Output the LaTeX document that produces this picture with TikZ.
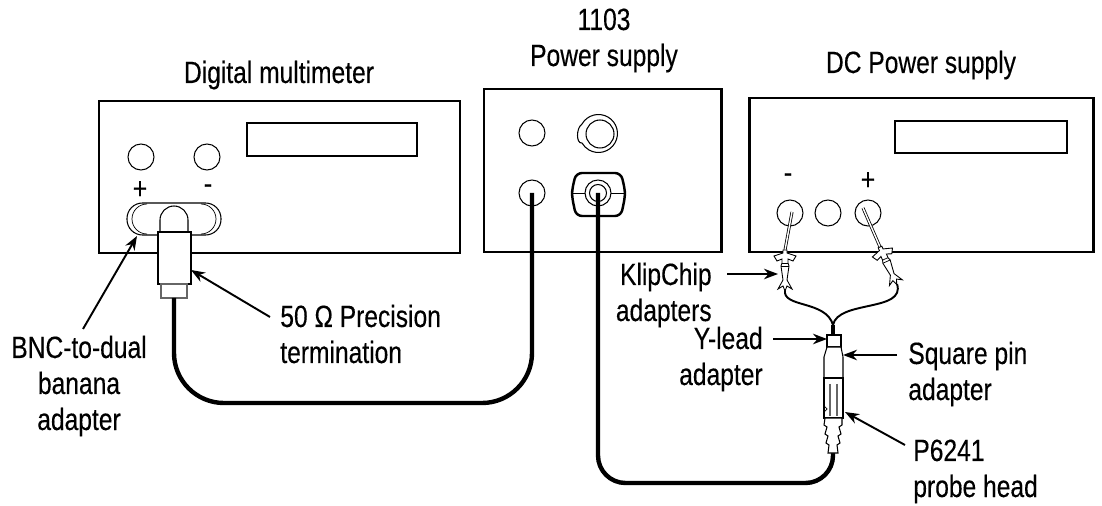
\documentclass[tikz,border=0pt]{standalone}
\usepackage{fontspec}
\setmainfont{Liberation Sans}[FakeStretch=0.8, FakeBold=0.3]
\usetikzlibrary{arrows.meta,positioning,calc}

\tikzset{
  klipchip/.pic={
    \draw[part, line width=0.5pt] (-2,0) -- (2,0) -- (2,3) -- (11,6) -- (8,11) -- (3,9)
      -- (3,13) -- (4,16) -- (2,30) -- (7,39) -- (2,36) -- (0,41) -- (-2,36) -- (-7,39)
      -- (-2,30) -- (-4,16) -- (-3,13) -- (-3,9) -- (-8,11) -- (-11,6) -- (-2,3) -- cycle;
    \draw[line width=0.4pt] (-3,13) -- (3,13) (-4,16) -- (4,16);
  }
}

\begin{document}
\begin{tikzpicture}[x=0.02cm, y=-0.02cm,
    panel/.style={draw, line width=1.7pt},
    screen/.style={draw, line width=0.6pt},
    jack/.style={circle, draw, line width=0.6pt, minimum size=0.52cm, inner sep=0},
    part/.style={draw, fill=white, line width=0.6pt},
    cable/.style={line width=2.5pt},
    lead/.style={line width=1.1pt},
    pinwire/.style={double, double distance=0.8pt, line width=0.45pt},
    lbl/.style={font=\fontsize{17.5}{20.5}\selectfont, inner sep=0},
    arrow/.style={-{Stealth[length=8pt,width=6pt]}, line width=1.1pt}
]
    \useasboundingbox (0,0) rectangle (1102,506);

    % digital multimeter
    \draw[panel] (99,101) rectangle (460,253);
    \draw[screen] (247,123) rectangle (417,156);
    \node[jack] (dmmplus) at (141,157) {};
    \node[jack] (dmmminus) at (207,157) {};
    \node[lbl] (dmmp) at (140,190) {+};
    \node[lbl] (dmmm) at (208,189) {-};

    % BNC-to-dual banana adapter and termination
    \draw[part, rounded corners=0.31cm] (127,203) rectangle (221,235);
    \draw[line width=0.4pt] (147,204) arc[start angle=270, end angle=90, radius=15];
    \draw[line width=0.4pt] (201,204) arc[start angle=-90, end angle=90, radius=15];
    \draw[part] (160,232) -- (160,220) arc[start angle=180, end angle=360, radius=14] -- (188,232);
    \draw[part] (158,232) rectangle (191,284);
    \draw[part, draw=black!60] (161,284) rectangle (187,298);
    \coordinate (termend) at (174,298);
    \coordinate (termside) at (191,270);
    \coordinate (bncedge) at (137,236);

    % 1103 power supply
    \draw[panel] (484,89) rectangle (721,252);
    \node[jack] (psaux) at (532,133) {};
    \draw[line width=0.6pt] (582,124) arc[start angle=-150, end angle=150, radius=19]
      .. controls (576,144) and (576,128) .. (582,124);
    \node[jack, minimum size=0.56cm] (psbnctop) at (600,134) {};
    \node[jack] (psout) at (532,193) {};
    \draw[line width=1.4pt, rounded corners=0.12cm] (576,173) -- (621,173) -- (625,190) -- (625,197)
      -- (621,216) -- (576,216) -- (572,197) -- (572,190) -- cycle;
    \draw[line width=0.4pt] (572,193) -- (585,193) (611,193) -- (625,193);
    \node[jack] (psbnc) at (598,193) {};
    \node[jack, minimum size=0.34cm] at (psbnc) {};

    % DC power supply
    \draw[panel] (749,98) rectangle (1093,252);
    \draw[screen] (895,121) rectangle (1067,153);
    \node[jack] (dcminus) at (790,213) {};
    \node[jack] (dccom) at (828,213) {};
    \node[jack] (dcplus) at (868,213) {};
    \node[lbl] (dcm) at (788,178) {-};
    \node[lbl] (dcp) at (868,181) {+};

    % cables
    \draw[cable, rounded corners=1cm] (termend) -- (termend |- 0,403) -- (psout |- 0,403) -- (psout.center);
    \coordinate (probetip) at (833,453);
    \draw[cable, rounded corners=0.55cm] (psbnc.center) -- (psbnc |- 0,483) -- (probetip |- 0,483) -- (probetip);

    % KlipChips and Y-lead
    \coordinate (klipA) at (785,250);
    \coordinate (klipB) at (880,247);
    \coordinate (klipAend) at (785,290);
    \coordinate (klipBend) at (897,284);
    \coordinate (klipAside) at (778,274);
    \coordinate (yjoin) at (833,325);
    \draw[pinwire] (792,212) -- (klipA);
    \draw[pinwire] (863,208) -- (klipB);
    \draw[lead] (klipAend) .. controls (782,308) and (826,300) .. (yjoin);
    \draw[lead] (klipBend) .. controls (906,312) and (838,300) .. (yjoin);
    \pic at (klipA) {klipchip};
    \pic[rotate=24] at (klipB) {klipchip};
    \draw[line width=2pt] (yjoin) -- (833,335);
    \draw[part] (827,335) rectangle (841,347);

    % square pin adapter and probe head
    \draw[part] (827,347) -- (824,357) -- (824,378) -- (843,378) -- (843,357) -- (841,347) -- cycle;
    \draw[part] (824,378) rectangle (843,418);
    \draw[black!60, line width=0.6pt] (830,384) -- (830,416) (837,384) -- (837,416);
    \draw[line width=0.4pt] (824,406) -- (827,409) -- (824,412);
    \draw[part] (825,418) -- (824,425) -- (827,427) -- (825,434) -- (828,436) -- (826,443)
      -- (829,445) -- (828,453) -- (838,453) -- (837,445) -- (840,443) -- (838,436)
      -- (841,434) -- (839,427) -- (842,425) -- (842,418) -- cycle;

    % labels (base = last line)
    \node[lbl, anchor=base] (dmmlbl) at (279,83) {Digital multimeter};
    \node[lbl, anchor=base, align=center] (pslbl) at (604,66) {1103\\Power supply};
    \node[lbl, anchor=base] (dclbl) at (921,73) {DC Power supply};
    \node[lbl, anchor=base, align=center] (bnclbl) at (79,430) {BNC-to-dual\\banana\\adapter};
    \node[lbl, anchor=base west, align=left] (termlbl) at (280,363) {50 Ω Precision\\termination};
    \node[lbl, anchor=base east, align=right] (kliplbl) at (712,321) {KlipChip\\adapters};
    \node[lbl, anchor=base east, align=right] (ylbl) at (763,385) {Y-lead\\adapter};
    \node[lbl, anchor=base west, align=left] (sqlbl) at (908,400) {Square pin\\adapter};
    \node[lbl, anchor=base west, align=left] (p6lbl) at (913,497) {P6241\\probe head};

    % pointers
    \draw[arrow] ([shift={(4,-101)}]bnclbl.base) -- (bncedge);
    \draw[arrow] ([shift={(-10,-46)}]termlbl.base west) -- (termside);
    \draw[arrow] ([shift={(15,-47)}]kliplbl.base east) -- (klipAside);
    \draw[arrow] ([shift={(10,-46)}]ylbl.base east) -- (827,339);
    \draw[arrow] ([shift={(-11,-45)}]sqlbl.base west) -- (843,355);
    \draw[arrow] ([shift={(-8,-52)}]p6lbl.base west) -- (845,412);
\end{tikzpicture}
\end{document}
